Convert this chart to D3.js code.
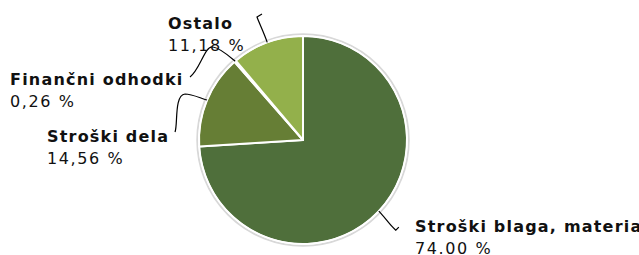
<!DOCTYPE html>
<html><head><meta charset="utf-8">
<script src="https://cdn.jsdelivr.net/npm/d3@7/dist/d3.min.js"></script>
<style>
html,body{margin:0;padding:0;background:#fff;}
svg{display:block;}
.name{font-family:"DejaVu Sans",Verdana,sans-serif;font-weight:bold;font-size:16px;letter-spacing:1.2px;fill:#111;}
.val{font-family:"DejaVu Sans",Verdana,sans-serif;font-size:16px;letter-spacing:1.6px;fill:#111;}
</style></head>
<body>
<svg id="c" width="639" height="255"></svg>
<script>
const categories = ["Stroški blaga, materiala in storitev", "Stroški dela", "Finančni odhodki", "Ostalo"];
const values = [74.00, 14.56, 0.26, 11.18];
const valueLabels = ["74.00 %", "14,56 %", "0,26 %", "11,18 %"];
const colors = ["#4f6f3b", "#667e35", "#7f9a42", "#93b04b"];

// layout (label anchors and leader bends)
const labelPos = [[415, 232], [47, 142], [10, 85], [168, 29]];
const valueGap = 22;

const svg = d3.select("#c");
const cx = 303, cy = 140, r = 104;
const g = svg.append("g").attr("transform", `translate(${cx},${cy})`);

const pie = d3.pie().sort(null).value(d => d).startAngle(0).endAngle(2 * Math.PI);
const arcs = pie(values);
const arc = d3.arc().innerRadius(0).outerRadius(r);
const edge = d3.arc().innerRadius(r).outerRadius(r);

g.append("circle").attr("r", r + 1.5).attr("fill", "none").attr("stroke", "#d8d8d8").attr("stroke-width", 2.5);
g.selectAll("path.s").data(arcs).join("path").attr("class", "s")
  .attr("d", arc).attr("fill", (d, i) => colors[i])
  .attr("stroke", "#fff").attr("stroke-width", 2).attr("stroke-linejoin", "round");
g.append("circle").attr("r", r).attr("fill", "none").attr("stroke", "#fff").attr("stroke-width", 1.5);

// leader lines: end at slice edge midpoint
const ends = arcs.map(a => { const c = edge.centroid(a); return [c[0] + cx, c[1] + cy]; });
const leaders = [
  e => `M${e[0]},${e[1]} C${e[0]+6},${e[1]+6} ${e[0]+11},${e[1]+14} ${e[0]+17},${e[1]+19} l3,-3`,
  e => `M175,132 C178,125 174,95 185,94 C192,94 200,${e[1]-2} ${e[0]},${e[1]}`,
  e => `M190,77 C200,70 205,45 213,47 C220,48 228,${e[1]-6} ${e[0]},${e[1]}`,
  e => `M262,14 L257,17 C260,25 264,33 ${e[0]},${e[1]}`
];
svg.selectAll("path.l").data(ends).join("path").attr("class", "l")
  .attr("d", (e, i) => leaders[i](e))
  .attr("fill", "none").attr("stroke", "#000").attr("stroke-width", 1.2);

svg.selectAll("text.name").data(categories).join("text").attr("class", "name")
  .attr("x", (d, i) => labelPos[i][0]).attr("y", (d, i) => labelPos[i][1]).text(d => d);
svg.selectAll("text.val").data(valueLabels).join("text").attr("class", "val")
  .attr("x", (d, i) => labelPos[i][0]).attr("y", (d, i) => labelPos[i][1] + valueGap).text(d => d);
</script>
</body></html>
